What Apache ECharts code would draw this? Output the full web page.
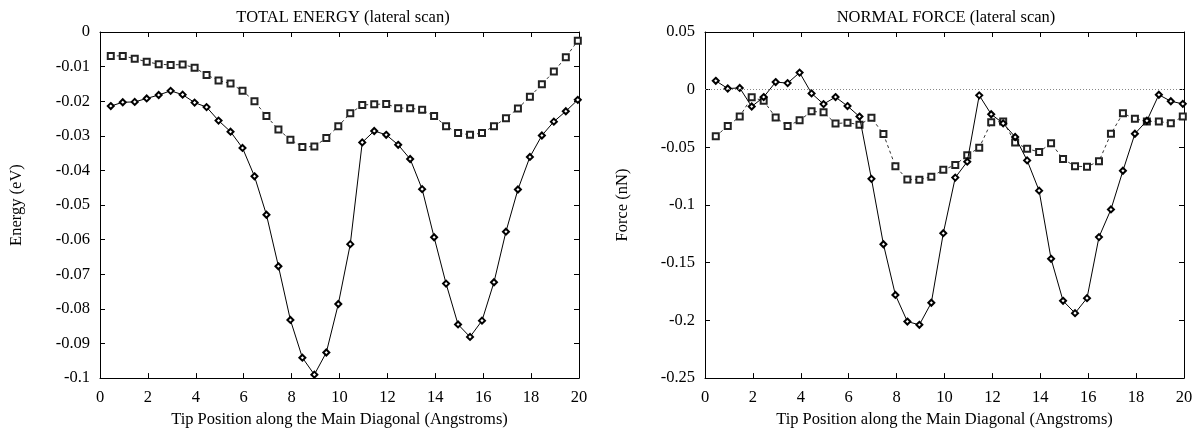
<!DOCTYPE html>
<html>
<head>
<meta charset="utf-8">
<script src="https://cdn.jsdelivr.net/npm/echarts@6/dist/echarts.min.js"></script>
<style>
html,body{margin:0;padding:0;background:#fff;}
#chart{width:1199px;height:433px;}
</style>
</head>
<body>
<div id="chart"></div>
<script>
// Tip positions (Angstroms)
var positions = [0.45,0.95,1.45,1.95,2.45,2.95,3.45,3.95,4.45,4.95,
                 5.45,5.95,6.45,6.95,7.45,7.95,8.45,8.95,9.45,9.95,
                 10.45,10.95,11.45,11.95,12.45,12.95,13.45,13.95,14.45,14.95,
                 15.45,15.95,16.45,16.95,17.45,17.95,18.45,18.95,19.45,19.95];

// TOTAL ENERGY (eV)
var energyDiamond = [-0.0214,-0.0203,-0.0202,-0.0192,-0.0182,-0.0170,-0.0181,-0.0204,-0.0217,-0.0256,
                     -0.0288,-0.0335,-0.0417,-0.0528,-0.0677,-0.0832,-0.0941,-0.0990,-0.0926,-0.0786,
                     -0.0613,-0.0319,-0.0286,-0.0297,-0.0326,-0.0367,-0.0454,-0.0593,-0.0727,-0.0845,
                     -0.0881,-0.0834,-0.0723,-0.0577,-0.0455,-0.0361,-0.0299,-0.0259,-0.0229,-0.0196];
var energySquare = [-0.0069,-0.0069,-0.0077,-0.0086,-0.0093,-0.0095,-0.0094,-0.0103,-0.0124,-0.0140,
                    -0.0149,-0.0170,-0.0200,-0.0243,-0.0282,-0.0311,-0.0332,-0.0331,-0.0306,-0.0272,
                    -0.0235,-0.0211,-0.0209,-0.0208,-0.0220,-0.0220,-0.0225,-0.0243,-0.0272,-0.0292,
                    -0.0297,-0.0292,-0.0272,-0.0249,-0.0221,-0.0187,-0.0151,-0.0114,-0.0073,-0.0025];

// NORMAL FORCE (nN)
var forceDiamond = [0.0077,0.0010,0.0015,-0.0146,-0.0064,0.0066,0.0057,0.0148,-0.0032,-0.0125,
                    -0.0064,-0.0142,-0.0233,-0.0773,-0.1340,-0.1779,-0.2010,-0.2038,-0.1847,-0.1244,
                    -0.0762,-0.0624,-0.0049,-0.0213,-0.0292,-0.0410,-0.0613,-0.0875,-0.1466,-0.1830,
                    -0.1937,-0.1807,-0.1278,-0.1038,-0.0703,-0.0382,-0.0269,-0.0044,-0.0100,-0.0123];
var forceSquare = [-0.0404,-0.0315,-0.0233,-0.0066,-0.0097,-0.0241,-0.0315,-0.0266,-0.0188,-0.0196,
                   -0.0294,-0.0286,-0.0303,-0.0244,-0.0385,-0.0664,-0.0779,-0.0780,-0.0754,-0.0695,
                   -0.0652,-0.0568,-0.0503,-0.0283,-0.0275,-0.0458,-0.0511,-0.0540,-0.0464,-0.0601,
                   -0.0664,-0.0667,-0.0621,-0.0382,-0.0205,-0.0252,-0.0275,-0.0275,-0.0292,-0.0233];

var titles = ['TOTAL ENERGY (lateral scan)', 'NORMAL FORCE (lateral scan)'];
var xName = 'Tip Position along the Main Diagonal (Angstroms)';
var yNames = ['Energy (eV)', 'Force (nN)'];

function pairs(xs, ys){ return xs.map(function(x,i){ return [x, ys[i]]; }); }

var FONT = 'Liberation Serif';
var txt = {fontFamily: FONT, fontSize: 16.5, color: '#000'};

function mainX(gi){
  return {type:'value', gridIndex:gi, min:0, max:20, interval:2, position:'bottom',
    name:xName, nameLocation:'middle', nameGap:29, nameTextStyle:txt,
    axisLine:{show:true, onZero:false, lineStyle:{color:'#000', width:1}},
    axisTick:{show:true, inside:true, length:5, lineStyle:{color:'#000'}},
    axisLabel:Object.assign({margin:11}, txt),
    splitLine:{show:false}};
}
function mirrorX(gi){
  return {type:'value', gridIndex:gi, min:0, max:20, interval:2, position:'top',
    axisLine:{show:true, onZero:false, lineStyle:{color:'#000', width:1}},
    axisTick:{show:true, inside:true, length:5, lineStyle:{color:'#000'}},
    axisLabel:{show:false}, splitLine:{show:false}};
}
function mainY(gi, min, max, iv, name, gap){
  return {type:'value', gridIndex:gi, min:min, max:max, interval:iv, position:'left',
    name:name, nameLocation:'middle', nameGap:gap, nameTextStyle:txt,
    axisLine:{show:true, onZero:false, lineStyle:{color:'#000', width:1}},
    axisTick:{show:true, inside:true, length:5, lineStyle:{color:'#000'}},
    axisLabel:Object.assign({margin:10}, txt),
    splitLine:{show:false}};
}
function mirrorY(gi, min, max, iv){
  return {type:'value', gridIndex:gi, min:min, max:max, interval:iv, position:'right',
    axisLine:{show:true, onZero:false, lineStyle:{color:'#000', width:1}},
    axisTick:{show:true, inside:true, length:5, lineStyle:{color:'#000'}},
    axisLabel:{show:false}, splitLine:{show:false}};
}

function diamondSeries(xi, yi, ys){
  return {type:'line', xAxisIndex:xi, yAxisIndex:yi, data:pairs(positions, ys),
    symbol:'emptyDiamond', symbolSize:6, z:3,
    lineStyle:{color:'#000', width:1},
    itemStyle:{color:'#000', borderColor:'#111', borderWidth:1},
    animation:false};
}
function squareSeries(xi, yi, ys){
  return {type:'line', xAxisIndex:xi, yAxisIndex:yi, data:pairs(positions, ys),
    symbol:'emptyRect', symbolSize:6, z:2,
    lineStyle:{color:'#333', width:1, type:[3,3]},
    itemStyle:{color:'#222', borderColor:'#222', borderWidth:1},
    animation:false};
}

var chart = echarts.init(document.getElementById('chart'), null, {renderer:'canvas'});
var zeroLine = diamondSeries(3, 3, forceDiamond);
zeroLine.markLine = {silent:true, symbol:'none', label:{show:false},
  lineStyle:{color:'#888', type:[1,2], width:1}, data:[{yAxis:0}]};

chart.setOption({
  animation:false,
  backgroundColor:'#fff',
  title:[
    {text:titles[0], left:338, top:4, textAlign:'center', textStyle:Object.assign({}, txt, {fontWeight:'normal'})},
    {text:titles[1], left:941, top:4, textAlign:'center', textStyle:Object.assign({}, txt, {fontWeight:'normal'})}
  ],
  grid:[
    {left:100, top:32, width:479, height:355},
    {left:705, top:32, width:479, height:355}
  ],
  xAxis:[mainX(0), mirrorX(0), mainX(1), mirrorX(1)],
  yAxis:[
    mainY(0, -0.1, 0, 0.01, yNames[0], 75), mirrorY(0, -0.1, 0, 0.01),
    mainY(1, -0.25, 0.05, 0.05, yNames[1], 74), mirrorY(1, -0.25, 0.05, 0.05)
  ],
  series:[
    squareSeries(0, 0, energySquare),
    diamondSeries(0, 0, energyDiamond),
    squareSeries(2, 2, forceSquare),
    zeroLine
  ]
});
</script>
</body>
</html>
